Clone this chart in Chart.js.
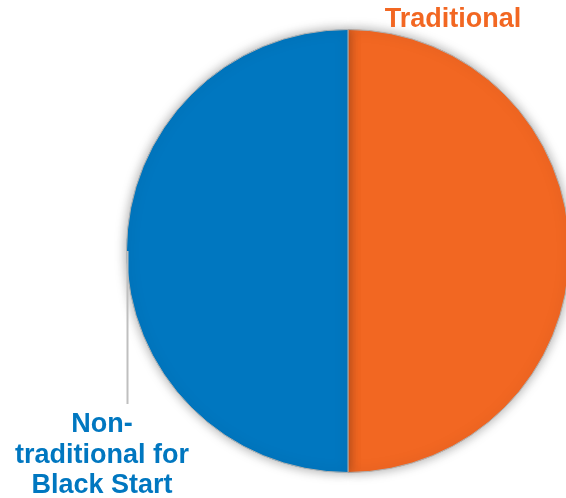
<!DOCTYPE html>
<html>
<head>
<meta charset="utf-8">
<script src="https://cdn.jsdelivr.net/npm/chart.js@4.4.1/dist/chart.umd.min.js"></script>
<style>
    html, body { margin: 0; padding: 0; background: #fff; overflow: hidden; }
    #wrap { width: 600px; height: 498px; }
</style>
</head>
<body>
<div id="wrap"><canvas id="myCanvas" width="600" height="498"></canvas></div>
<script>
const categories = ["Traditional", "Non-traditional for Black Start"];
const shares = [50, 50];
const colors = ["#F26722", "#0077C0"];

// label lines for each slice
const labelLines = [["Traditional"], ["Non-", "traditional for", "Black Start"]];

// soft shadow round the pie
const shadowPlugin = {
    id: "pieShadow",
    beforeDatasetsDraw(chart) {
        const ctx = chart.ctx;
        ctx.save();
        ctx.shadowColor = "rgba(0, 0, 0, 0.35)";
        ctx.shadowBlur = 12;
        ctx.shadowOffsetX = 0;
        ctx.shadowOffsetY = 0;
    },
    afterDatasetsDraw(chart) {
        chart.ctx.restore();
    },
};

// slice labels and the leader line of the left one
const labelPlugin = {
    id: "sliceLabels",
    afterDraw(chart) {
        const ctx = chart.ctx;
        const arc = chart.getDatasetMeta(0).data[0];
        const cx = arc.x;
        const cy = arc.y;
        const r = arc.outerRadius;

        ctx.save();
        ctx.font = "bold 27px 'Liberation Sans', Arial, sans-serif";
        ctx.textAlign = "center";
        ctx.textBaseline = "alphabetic";

        // Traditional
        ctx.fillStyle = colors[0];
        ctx.fillText(labelLines[0][0], cx + 105, cy - 224);

        // leader line
        ctx.strokeStyle = "#BFBFBF";
        ctx.lineWidth = 2;
        ctx.beginPath();
        ctx.moveTo(cx - r + 1, cy);
        ctx.lineTo(cx - r + 1, cy + 153);
        ctx.stroke();

        // Non-traditional for Black Start
        ctx.fillStyle = colors[1];
        labelLines[1].forEach((line, i) => {
            ctx.fillText(line, cx - 246, cy + 181 + i * 30.5);
        });
        ctx.restore();
    },
};

const ctx = document.getElementById("myCanvas").getContext("2d");

const chart = new Chart(ctx, {
    type: "pie",
    data: {
        labels: categories,
        datasets: [
            {
                data: shares,
                backgroundColor: colors,
                borderColor: "#B0B0B0",
                borderWidth: 1,
            },
        ],
    },
    options: {
        responsive: false,
        animation: false,
        layout: {
            padding: { left: 126, right: 30, top: 29, bottom: 25 },
        },
        plugins: {
            legend: { display: false },
            tooltip: { enabled: false },
        },
    },
    plugins: [shadowPlugin, labelPlugin],
});
</script>
</body>
</html>
